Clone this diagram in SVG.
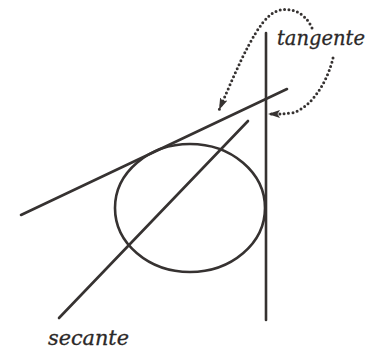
<svg xmlns="http://www.w3.org/2000/svg" width="379" height="350" viewBox="0 0 379 350">
<style>
.ln{stroke:#363231;stroke-width:2.6;fill:none;stroke-linecap:round}
.dot{stroke:#363231;stroke-width:3;fill:none;stroke-linecap:round;stroke-dasharray:0 4.4}
.lbl{font-family:"DejaVu Serif",serif;font-style:italic;font-size:20px;fill:#2b2827;stroke:#2b2827;stroke-width:0.3}
</style>
<defs>
<marker id="ah" markerUnits="userSpaceOnUse" markerWidth="13" markerHeight="9" refX="12" refY="4.5" orient="auto">
<path d="M0,0.5 L12,4.5 L0,8.5 L2.5,4.5 z" fill="#363231"/>
</marker>
</defs>
<rect width="379" height="350" fill="#ffffff"/>
<g id="circle"><ellipse class="ln" cx="190" cy="208" rx="75" ry="64"/></g>
<g id="tangent-line"><line class="ln" x1="21" y1="215" x2="287" y2="89"/></g>
<g id="vertical-tangent"><line class="ln" x1="266" y1="33" x2="266" y2="320"/></g>
<g id="secant-line"><line class="ln" x1="59" y1="318" x2="248" y2="121"/></g>
<g id="label-tangente"><text class="lbl" x="277" y="45" textLength="88" lengthAdjust="spacingAndGlyphs">tangente</text></g>
<g id="label-secante"><text class="lbl" x="48" y="345" textLength="81" lengthAdjust="spacingAndGlyphs">secante</text></g>
<g id="connectors">
<path class="dot" d="M312,28 C306,14 292,6 277,11 C258,18 240,62 219,110" marker-end="url(#ah)"/>
<path class="dot" d="M333,58 C328,80 312,108 292,113 C283,114 277,114 268,114" marker-end="url(#ah)"/>
</g>
</svg>
